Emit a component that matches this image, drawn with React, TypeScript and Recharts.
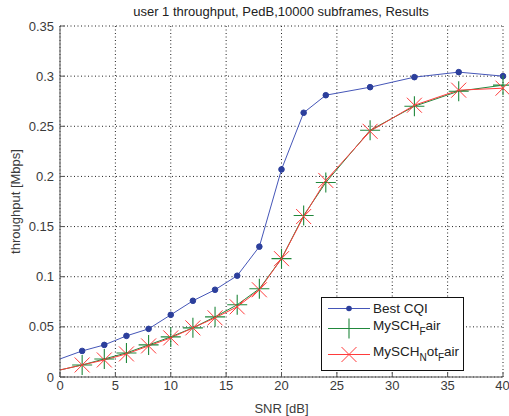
import React from 'react';
import { LineChart, Line, XAxis, YAxis, CartesianGrid, Legend } from 'recharts';

const snr = [0, 2, 4, 6, 8, 10, 12, 14, 16, 18, 20, 22, 24, 28, 32, 36, 40];
const bestCqi = [0.018, 0.026, 0.032, 0.041, 0.048, 0.062, 0.076, 0.087, 0.101, 0.13, 0.207, 0.2635, 0.281, 0.289, 0.299, 0.304, 0.3];
const myschFair = [0.007, 0.012, 0.018, 0.024, 0.032, 0.04, 0.049, 0.06, 0.072, 0.088, 0.118, 0.161, 0.194, 0.246, 0.27, 0.285, 0.291];
const myschNotFair = [0.007, 0.012, 0.017, 0.023, 0.031, 0.039, 0.049, 0.059, 0.07, 0.087, 0.118, 0.16, 0.196, 0.245, 0.271, 0.286, 0.288];
const xTicks = [0, 5, 10, 15, 20, 25, 30, 35, 40];
const yTicks = [0, 0.05, 0.1, 0.15, 0.2, 0.25, 0.3, 0.35];
const yTickLabels = ['0', '0.05', '0.1', '0.15', '0.2', '0.25', '0.3', '0.35'];

const title = 'user 1 throughput, PedB,10000 subframes, Results';

const data = snr.map((s, i) => ({
  snr: s,
  best: bestCqi[i],
  fair: myschFair[i],
  notFair: myschNotFair[i],
}));

const BLUE_LINE = '#4556b8';
const BLUE_MARK = '#2c3f9c';
const GREEN = '#21883c';
const RED = '#ff3b3b';
const FONT = '"Liberation Sans", Arial, sans-serif';
const TEXT = '#3a3a3a';

const CircleDot = (props: any) => {
  const { cx, cy, index, payload } = props;
  if (payload.snr === 0 || cx == null) return <g key={`b-${index}`} />;
  return <circle key={`b-${index}`} cx={cx} cy={cy} r={2.8} fill={BLUE_MARK} stroke={BLUE_MARK} />;
};

const PlusDot = (props: any) => {
  const { cx, cy, index, payload } = props;
  if (payload.snr === 0 || cx == null) return <g key={`g-${index}`} />;
  const a = 10;
  return (
    <path key={`g-${index}`} d={`M${cx - a},${cy}H${cx + a}M${cx},${cy - a}V${cy + a}`} stroke={GREEN} strokeWidth={1.1} fill="none" />
  );
};

const XDot = (props: any) => {
  const { cx, cy, index, payload } = props;
  if (payload.snr === 0 || cx == null) return <g key={`r-${index}`} />;
  const a = 7.5;
  return (
    <path key={`r-${index}`} d={`M${cx - a},${cy - a}L${cx + a},${cy + a}M${cx - a},${cy + a}L${cx + a},${cy - a}`} stroke={RED} strokeWidth={1} fill="none" />
  );
};

const LegendBox = () => {
  const w = 143;
  const h = 74;
  const x0 = 7;
  const x1 = 49;
  const mx = 28;
  const tx = 52;
  const rows = [11.5, 31.5, 57.5];
  return (
    <svg width={w} height={h} style={{ display: 'block' }}>
      <rect x={0.5} y={0.5} width={w - 1} height={h - 1} fill="#fff" stroke="#111" strokeWidth={1} />
      <line x1={x0} x2={x1} y1={rows[0]} y2={rows[0]} stroke={BLUE_LINE} strokeWidth={1} />
      <circle cx={mx} cy={rows[0]} r={2.8} fill={BLUE_MARK} />
      <text x={tx} y={rows[0]} dy="0.36em" fontSize={13.5} fontFamily={FONT} fill="#222">Best CQI</text>

      <line x1={x0} x2={x1} y1={rows[1]} y2={rows[1]} stroke={GREEN} strokeWidth={1} />
      <path d={`M${mx - 10},${rows[1]}H${mx + 10}M${mx},${rows[1] - 10}V${rows[1] + 10}`} stroke={GREEN} strokeWidth={1.1} fill="none" />
      <text x={tx} y={rows[1] - 3} dy="0.36em" fontSize={13.5} fontFamily={FONT} fill="#222">
        MySCH<tspan dy={5} fontSize={10}>F</tspan><tspan dy={-5}>air</tspan>
      </text>

      <line x1={x0} x2={x1} y1={rows[2]} y2={rows[2]} stroke={RED} strokeWidth={1} />
      <path d={`M${mx - 7.5},${rows[2] - 7.5}L${mx + 7.5},${rows[2] + 7.5}M${mx - 7.5},${rows[2] + 7.5}L${mx + 7.5},${rows[2] - 7.5}`} stroke={RED} strokeWidth={1} fill="none" />
      <text x={tx} y={rows[2] - 3} dy="0.36em" fontSize={13.5} fontFamily={FONT} fill="#222">
        MySCH<tspan dy={5} fontSize={10}>N</tspan><tspan dy={-5}>ot</tspan><tspan dy={5} fontSize={10}>F</tspan><tspan dy={-5}>air</tspan>
      </text>
    </svg>
  );
};

const YLabel = (props: any) => {
  const vb = props.viewBox || { x: 0, y: 26, width: 60, height: 351 };
  const cx = vb.x + 15;
  const cy = vb.y + vb.height / 2;
  return (
    <text transform={`translate(${cx},${cy}) rotate(-90)`} textAnchor="middle" dy="0.36em" fontSize={13} fontFamily={FONT} fill={TEXT}>
      throughput [Mbps]
    </text>
  );
};

export default function App() {
  return (
    <div style={{ position: 'absolute', left: 0, top: 0, width: 509, height: 416, background: '#fff' }}>
      <LineChart width={509} height={416} data={data} margin={{ top: 26, right: 6, bottom: 0, left: 0 }}>
        <text x={281} y={16} textAnchor="middle" fontSize={13} fontFamily={FONT} fill="#222">{title}</text>
        <CartesianGrid stroke="#222" strokeDasharray="1 2.5" strokeWidth={1} horizontalValues={yTicks} verticalValues={xTicks} />
        <XAxis
          type="number"
          dataKey="snr"
          domain={[0, 40]}
          ticks={xTicks}
          height={39}
          tickSize={-5}
          tickMargin={9}
          stroke="#555"
          tick={{ fill: TEXT, fontSize: 13, fontFamily: FONT }}
          label={{ value: 'SNR [dB]', position: 'insideBottom', offset: 3, fill: TEXT, fontSize: 13, fontFamily: FONT }}
        />
        <YAxis
          type="number"
          domain={[0, 0.35]}
          ticks={yTicks}
          tickFormatter={(v: number) => yTickLabels[yTicks.indexOf(v)] ?? String(v)}
          width={60}
          tickSize={-5}
          tickMargin={11}
          stroke="#555"
          tick={{ fill: TEXT, fontSize: 13, fontFamily: FONT }}
          label={{ content: (p: any) => <YLabel {...p} /> }}
        />
        <Legend
          layout="horizontal"
          verticalAlign="middle"
          align="center"
          wrapperStyle={{ position: 'absolute', left: 321, top: 297, width: 143, height: 74, bottom: 'auto', right: 'auto' }}
          content={() => <LegendBox />}
        />
        <Line type="linear" dataKey="best" stroke={BLUE_LINE} strokeWidth={1} dot={CircleDot} activeDot={false} isAnimationActive={false} />
        <Line type="linear" dataKey="fair" stroke={GREEN} strokeWidth={1} dot={PlusDot} activeDot={false} isAnimationActive={false} />
        <Line type="linear" dataKey="notFair" stroke={RED} strokeWidth={1} dot={XDot} activeDot={false} isAnimationActive={false} />
      </LineChart>
    </div>
  );
}
